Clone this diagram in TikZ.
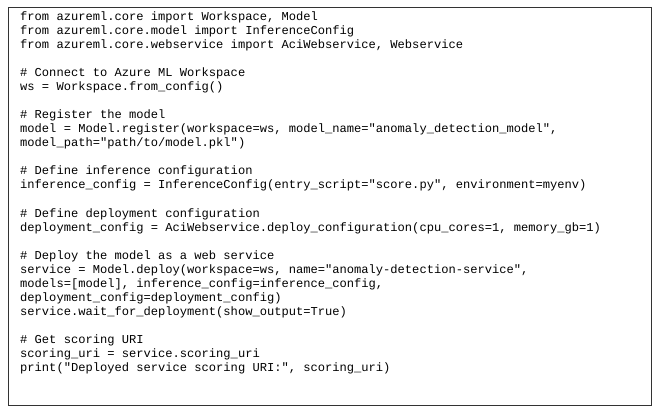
\documentclass[tikz,border=0pt]{standalone}
\usepackage{fontspec}
\setmonofont{Liberation Mono}
\begin{document}
\begin{tikzpicture}[x=1pt,y=-1pt,
  code/.style={anchor=base west,inner sep=0pt,font=\ttfamily\fontsize{12.1}{14}\selectfont}]
\useasboundingbox (0,0) rectangle (660,412);
\node[draw=black!80,line width=0.9pt,minimum width=643pt,minimum height=397pt,anchor=north west,inner sep=0pt] (box) at (8,7.5) {};
\def\L#1#2{\node[code] (l#1) at (20,{20.5+14.04*(#1-1)}) {#2};}
\L{1}{from azureml.core import Workspace, Model}
\L{2}{from azureml.core.model import InferenceConfig}
\L{3}{from azureml.core.webservice import AciWebservice, Webservice}
\L{5}{\# Connect to Azure ML Workspace}
\L{6}{ws = Workspace.from\_config()}
\L{8}{\# Register the model}
\L{9}{model = Model.register(workspace=ws, model\_name="anomaly\_detection\_model",}
\L{10}{model\_path="path/to/model.pkl")}
\L{12}{\# Define inference configuration}
\L{13}{inference\_config = InferenceConfig(entry\_script="score.py", environment=myenv)}
\L{15}{\# Define deployment configuration}
\L{16}{deployment\_config = AciWebservice.deploy\_configuration(cpu\_cores=1, memory\_gb=1)}
\L{18}{\# Deploy the model as a web service}
\L{19}{service = Model.deploy(workspace=ws, name="anomaly-detection-service",}
\L{20}{models=[model], inference\_config=inference\_config,}
\L{21}{deployment\_config=deployment\_config)}
\L{22}{service.wait\_for\_deployment(show\_output=True)}
\L{24}{\# Get scoring URI}
\L{25}{scoring\_uri = service.scoring\_uri}
\L{26}{print("Deployed service scoring URI:", scoring\_uri)}
\end{tikzpicture}
\end{document}
